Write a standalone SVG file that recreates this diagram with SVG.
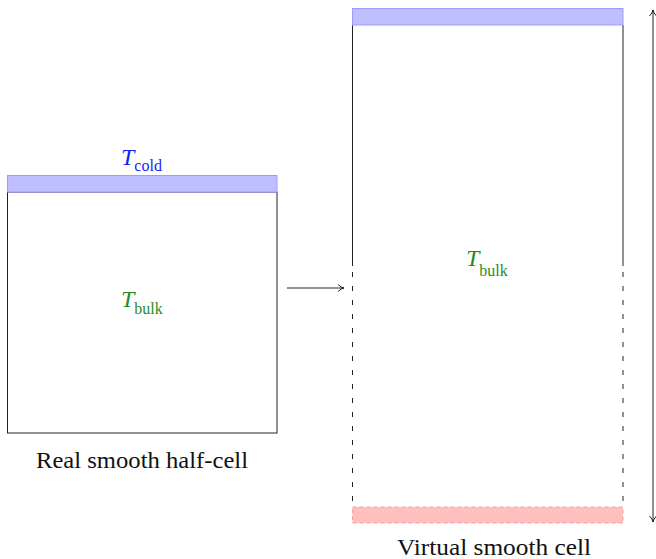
<svg xmlns="http://www.w3.org/2000/svg" width="656" height="559" viewBox="0 0 656 559">
  <style>
    .box { fill: none; stroke: #222; stroke-width: 1; }
    .cold { fill: #bfbfff; stroke: #9c9cff; stroke-width: 1; }
    .hot { fill: #ffbfbf; stroke: #ff9c9c; stroke-width: 1; stroke-dasharray: 4 3; }
    .dash { stroke: #222; stroke-width: 1; stroke-dasharray: 5 9; fill: none; }
    .wire { stroke: #222; stroke-width: 1; fill: none; }
    text { font-family: 'Liberation Serif', 'Times New Roman', serif; }
    .lbl { fill: #111; }
    .blue { fill: #1a1aff; }
    .green { fill: #1f8c1f; }
  </style>
  <defs>
    <marker id="tip" viewBox="0 0 10 10" refX="9" refY="5" markerWidth="10" markerHeight="10" markerUnits="userSpaceOnUse" orient="auto-start-reverse">
      <path d="M3,1.5 Q6,4.5 9,5 Q6,5.5 3,8.5" fill="none" stroke="#222" stroke-width="1"/>
    </marker>
  </defs>

  <!-- half cell with cold plate -->
  <g id="half-cell">
    <rect class="box" x="7.5" y="192" width="269.5" height="241"/>
    <rect class="cold" x="7.5" y="175.5" width="269.5" height="16.5"/>
    <text class="blue" x="121" y="165" font-size="24" font-family="Liberation Serif"><tspan font-style="italic">T</tspan><tspan font-size="16" dy="6">cold</tspan></text>
    <text class="green" x="121" y="307" font-size="24" font-family="Liberation Serif"><tspan font-style="italic">T</tspan><tspan font-size="16" dy="7">bulk</tspan></text>
    <text class="lbl" x="142" y="468" font-size="23" text-anchor="middle" font-family="Liberation Serif" textLength="212" lengthAdjust="spacingAndGlyphs">Real smooth half-cell</text>
  </g>

  <!-- mirrored full cell -->
  <g id="virtual-cell">
    <line class="wire" x1="352.5" y1="25" x2="352.5" y2="266"/>
    <line class="wire" x1="623" y1="25" x2="623" y2="266"/>
    <line class="dash" x1="352.5" y1="272" x2="352.5" y2="507"/>
    <line class="dash" x1="623" y1="272" x2="623" y2="507"/>
    <rect class="cold" x="352.5" y="8.5" width="270.5" height="16.5"/>
    <rect class="hot" x="352.5" y="507" width="270.5" height="16"/>
    <text class="green" x="466" y="266" font-size="24" font-family="Liberation Serif"><tspan font-style="italic">T</tspan><tspan font-size="16" dy="10">bulk</tspan></text>
    <text class="lbl" x="494" y="555" font-size="23" text-anchor="middle" font-family="Liberation Serif" textLength="194" lengthAdjust="spacingAndGlyphs">Virtual smooth cell</text>
  </g>

  <!-- connectors -->
  <g id="connectors">
    <line class="wire" x1="287" y1="288" x2="344" y2="288" marker-end="url(#tip)"/>
    <line class="wire" x1="653" y1="10" x2="653" y2="522" marker-start="url(#tip)" marker-end="url(#tip)"/>
  </g>
</svg>
